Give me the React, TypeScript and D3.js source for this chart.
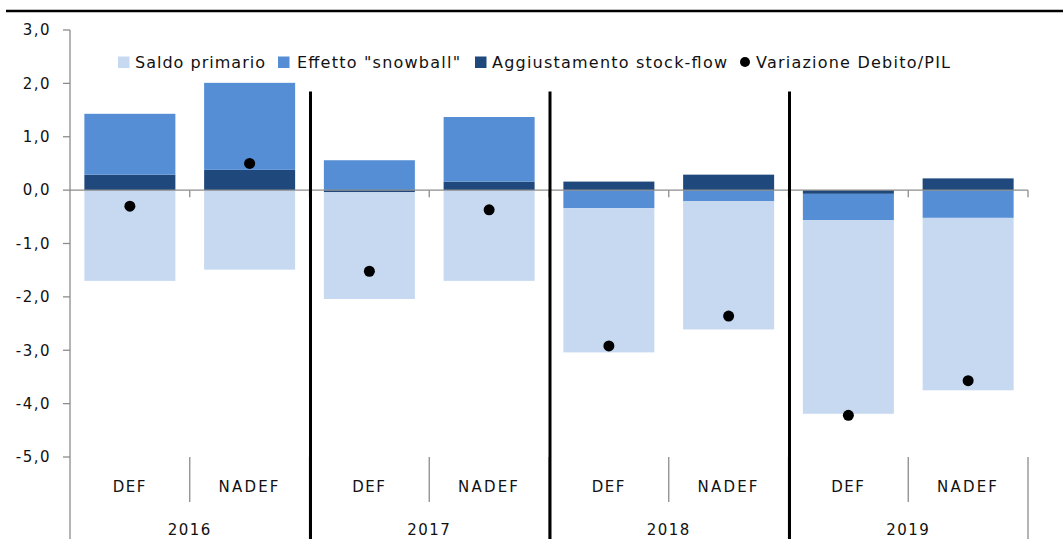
import React from "react";
import * as d3 from "d3";

const years = ["2016", "2017", "2018", "2019"];
const docs = ["DEF", "NADEF"];
const categories = ["2016 DEF", "2016 NADEF", "2017 DEF", "2017 NADEF", "2018 DEF", "2018 NADEF", "2019 DEF", "2019 NADEF"];
const aggiustamento = [0.29, 0.38, -0.04, 0.16, 0.16, 0.29, -0.07, 0.22];
const snowball = [1.14, 1.63, 0.56, 1.21, -0.34, -0.21, -0.49, -0.52];
const saldo = [-1.70, -1.49, -2.00, -1.70, -2.70, -2.40, -3.63, -3.23];
const variazione = [-0.30, 0.50, -1.52, -0.37, -2.92, -2.36, -4.22, -3.57];
const yTicks = [3, 2, 1, 0, -1, -2, -3, -4, -5];

const seriesKeys = ["agg", "snow", "saldo"];
const colors: Record<string, string> = { saldo: "#C6D9F1", snow: "#558ED5", agg: "#1F497D" };
const legendItems = [
  { key: "saldo", label: "Saldo primario", type: "rect" },
  { key: "snow", label: "Effetto \"snowball\"", type: "rect" },
  { key: "agg", label: "Aggiustamento stock-flow", type: "rect" },
  { key: "dot", label: "Variazione Debito/PIL", type: "dot" },
];

const W = 1063, H = 539;
const font = "'DejaVu Sans', sans-serif";

export default function App() {
  const x0 = 70, x1 = 1028;
  const x = d3.scaleBand<string>().domain(categories).range([x0, x1]).paddingInner(0.24).paddingOuter(0.12);
  const y = d3.scaleLinear().domain([-5, 3]).range([457, 30]);
  const step = x.step();
  const rows = categories.map((c, i) => ({ cat: c, agg: aggiustamento[i], snow: snowball[i], saldo: saldo[i] }));
  const stack = d3.stack<any>().keys(seriesKeys).offset(d3.stackOffsetDiverging);
  const stacked = stack(rows);
  const y0 = y(0);
  const boundaries = d3.range(1, categories.length + 1).map((k) => x0 + k * step);

  const legendPos = [
    { sx: 118, tx: 135, len: 130 },
    { sx: 278, tx: 297, len: 163 },
    { sx: 475, tx: 492, len: 235 },
    { sx: 745, tx: 756, len: 194 },
  ];

  return (
    <svg width={W} height={H} style={{ position: "absolute", left: 0, top: 0, background: "#fff" }}
      fontFamily={font} fontSize={15} fill="#111">
      <rect x={0} y={0} width={W} height={H} fill="#fff" />
      <line x1={6} x2={W} y1={11} y2={11} stroke="#000" strokeWidth={2.5} />

      {/* bars */}
      {stacked.map((s) => (
        <g key={s.key}>
          {s.map((d, i) => (
            <rect key={i} x={x(categories[i])!} width={x.bandwidth()}
              y={y(Math.max(d[0], d[1]))} height={Math.abs(y(d[0]) - y(d[1]))}
              fill={colors[s.key]} />
          ))}
        </g>
      ))}

      {/* y axis */}
      <line x1={x0} x2={x0} y1={y(3)} y2={H} stroke="#8C8C8C" strokeWidth={1.3} />
      {yTicks.map((t) => (
        <g key={t}>
          <line x1={x0 - 7} x2={x0} y1={y(t)} y2={y(t)} stroke="#8C8C8C" strokeWidth={1.3} />
          <text x={51} y={y(t)} dy="0.35em" textAnchor="end" letterSpacing={1.5}>
            {d3.format(".1f")(t).replace(".", ",").replace("−", "-")}
          </text>
        </g>
      ))}

      {/* zero line with ticks */}
      <line x1={x0} x2={x1} y1={y0} y2={y0} stroke="#8C8C8C" strokeWidth={1.3} />
      {boundaries.map((bx, k) => (
        <line key={k} x1={bx} x2={bx} y1={y0} y2={y0 + 7} stroke="#8C8C8C" strokeWidth={1.3} />
      ))}

      {/* category separators */}
      {boundaries.map((bx, k) => (
        <line key={"s" + k} x1={bx} x2={bx} y1={457} y2={(k + 1) % 2 === 0 ? H : 502}
          stroke="#8C8C8C" strokeWidth={1.3} />
      ))}

      {/* year separators */}
      {[2, 4, 6].map((k) => (
        <line key={"y" + k} x1={x0 + k * step + 1} x2={x0 + k * step + 1} y1={y(1.85)} y2={H}
          stroke="#000" strokeWidth={3} />
      ))}

      {/* dots */}
      {variazione.map((v, i) => (
        <circle key={i} cx={x(categories[i])! + x.bandwidth() / 2} cy={y(v)} r={5.5} fill="#000" />
      ))}

      {/* category labels */}
      {categories.map((c, i) => (
        <text key={c} x={x(c)! + x.bandwidth() / 2} y={487} dy="0.35em" textAnchor="middle"
          letterSpacing={docs[i % 2] === "NADEF" ? 2.2 : 1.5}>
          {docs[i % 2]}
        </text>
      ))}
      {years.map((yr, j) => (
        <text key={yr} x={x0 + (2 * j + 1) * step} y={530} dy="0.35em" textAnchor="middle" letterSpacing={1.5}>
          {yr}
        </text>
      ))}

      {/* legend */}
      {legendItems.map((it, i) => {
        const p = legendPos[i];
        return (
          <g key={it.key}>
            {it.type === "rect" ? (
              <rect x={p.sx} y={56.5} width={11.5} height={11.5} fill={colors[it.key]} />
            ) : (
              <circle cx={p.sx} cy={62} r={5} fill="#000" />
            )}
            <text x={p.tx} y={62} dy="0.35em" fontSize={16} textLength={p.len} lengthAdjust="spacing">{it.label}</text>
          </g>
        );
      })}
    </svg>
  );
}
